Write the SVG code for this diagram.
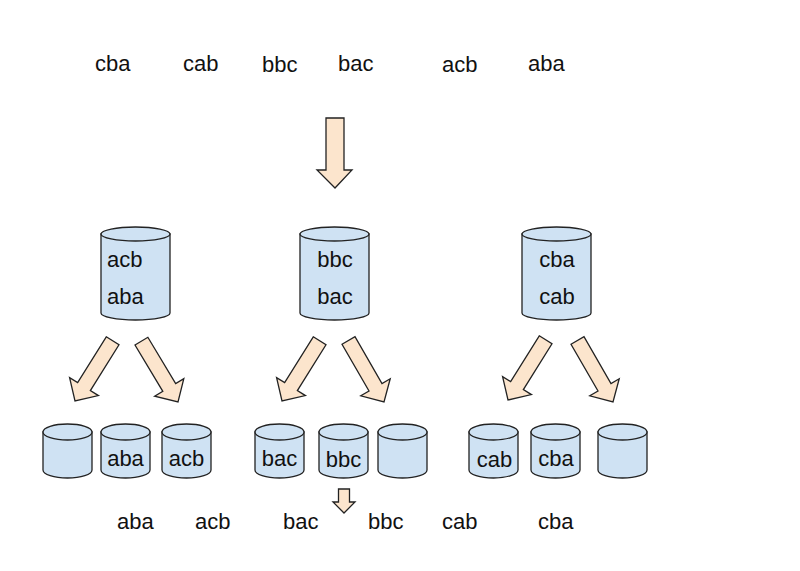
<svg xmlns="http://www.w3.org/2000/svg" xmlns:xlink="http://www.w3.org/1999/xlink" width="800" height="571" viewBox="0 0 800 571">
<style>
text{font-family:"Liberation Sans",Arial,sans-serif;font-size:22px;fill:#111}
.cyl{fill:#cfe2f3;stroke:#222;stroke-width:1.3}
.arr{fill:#fce5cd;stroke:#222;stroke-width:1.3;stroke-linejoin:miter}
.m{text-anchor:middle}
</style>
<defs>
<g id="bigcyl">
<path class="cyl" d="M0,7 V86 A34.5,7 0 0 0 69,86 V7 Z"/>
<ellipse class="cyl" cx="34.5" cy="7" rx="34.5" ry="7"/>
</g>
<g id="smallcyl">
<path class="cyl" d="M0,8 V46 A24.5,8 0 0 0 49,46 V8 Z"/>
<ellipse class="cyl" cx="24.5" cy="8" rx="24.5" ry="8"/>
</g>
<polygon id="darr" class="arr" points="-7.5,-71 7.5,-71 7.5,-17 17,-17 0,0 -17,-17 -7.5,-17"/>
</defs>
<rect width="800" height="571" fill="#fff"/>
<g id="input-row">
<text x="95" y="71">cba</text>
<text x="183" y="71">cab</text>
<text x="262" y="72">bbc</text>
<text x="338" y="71">bac</text>
<text x="442" y="72">acb</text>
<text x="528" y="71">aba</text>
</g>
<g id="connectors">
<polygon class="arr" points="326,118 344,118 344,170 352,170 335,188 317,170 326,170"/>
<use xlink:href="#darr" transform="translate(75,401) rotate(32)"/>
<use xlink:href="#darr" transform="translate(178,402) rotate(-31)"/>
<use xlink:href="#darr" transform="translate(282,401) rotate(32)"/>
<use xlink:href="#darr" transform="translate(384,402) rotate(-30)"/>
<use xlink:href="#darr" transform="translate(508,400) rotate(32)"/>
<use xlink:href="#darr" transform="translate(613,402) rotate(-30)"/>
<polygon class="arr" points="338.5,489 349.5,489 349.5,502 355,502 344,513 333,502 338.5,502"/>
</g>
<g id="bucket-a">
<use xlink:href="#bigcyl" x="101" y="227"/>
<text x="107" y="267">acb</text>
<text x="107" y="304">aba</text>
</g>
<g id="bucket-b">
<use xlink:href="#bigcyl" x="300" y="227"/>
<text class="m" x="335" y="267">bbc</text>
<text class="m" x="335" y="304">bac</text>
</g>
<g id="bucket-c">
<use xlink:href="#bigcyl" x="522" y="227"/>
<text class="m" x="557" y="267">cba</text>
<text class="m" x="557" y="304">cab</text>
</g>
<g id="bucket-aa"><use xlink:href="#smallcyl" x="43" y="424"/></g>
<g id="bucket-ab"><use xlink:href="#smallcyl" x="101" y="424"/><text class="m" x="125.5" y="466">aba</text></g>
<g id="bucket-ac"><use xlink:href="#smallcyl" x="162" y="424"/><text class="m" x="186.5" y="466">acb</text></g>
<g id="bucket-ba"><use xlink:href="#smallcyl" x="255" y="424"/><text class="m" x="279.5" y="466">bac</text></g>
<g id="bucket-bb"><use xlink:href="#smallcyl" x="319" y="424"/><text class="m" x="343.5" y="467">bbc</text></g>
<g id="bucket-bc"><use xlink:href="#smallcyl" x="378" y="424"/></g>
<g id="bucket-ca"><use xlink:href="#smallcyl" x="469" y="424"/><text class="m" x="494.5" y="467">cab</text></g>
<g id="bucket-cb"><use xlink:href="#smallcyl" x="531" y="424"/><text class="m" x="556" y="466">cba</text></g>
<g id="bucket-cc"><use xlink:href="#smallcyl" x="598" y="424"/></g>
<g id="output-row">
<text x="117" y="529">aba</text>
<text x="195" y="529">acb</text>
<text x="283" y="529">bac</text>
<text x="368" y="529">bbc</text>
<text x="442" y="529">cab</text>
<text x="538" y="529">cba</text>
</g>
</svg>
